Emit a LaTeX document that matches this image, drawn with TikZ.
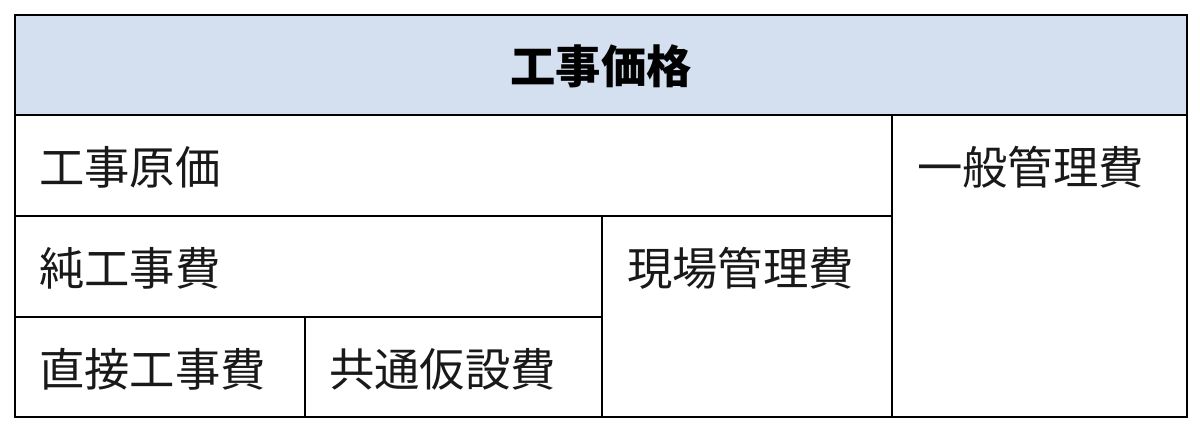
\documentclass[tikz,border=0pt]{standalone}
\usepackage{fontspec}
\newfontfamily\cjk{Noto Sans CJK JP}
\definecolor{hdr}{HTML}{D4E0EF}
\begin{document}
\begin{tikzpicture}[x=0.75pt,y=-0.75pt,
  grid/.style={line width=2pt,draw=black},
  lbl/.style={anchor=west,inner sep=0pt,font=\cjk\fontsize{34}{34}\selectfont,text=black!90}]
\useasboundingbox (0,0) rectangle (1200,431);
\fill[white] (0,0) rectangle (1200,431);
\fill[hdr] (15,15) rectangle (1187,115);
\draw[grid] (15,15) rectangle (1187,417);
\draw[grid] (15,115) -- (1187,115);
\draw[grid] (892,115) -- (892,417);
\draw[grid] (15,216) -- (892,216);
\draw[grid] (15,317) -- (602,317);
\draw[grid] (602,216) -- (602,417);
\draw[grid] (305,317) -- (305,417);
\node[font=\cjk\bfseries\fontsize{34}{34}\selectfont,inner sep=0pt] (title) at (601,66) {工事価格};
\node[lbl] (genka) at (39,167) {工事原価};
\node[lbl] (ippan) at (917,167) {一般管理費};
\node[lbl] (jun) at (39,268) {純工事費};
\node[lbl] (genba) at (627,268) {現場管理費};
\node[lbl] (chokusetsu) at (39,369) {直接工事費};
\node[lbl] (kyotsu) at (329,369) {共通仮設費};
\end{tikzpicture}
\end{document}
